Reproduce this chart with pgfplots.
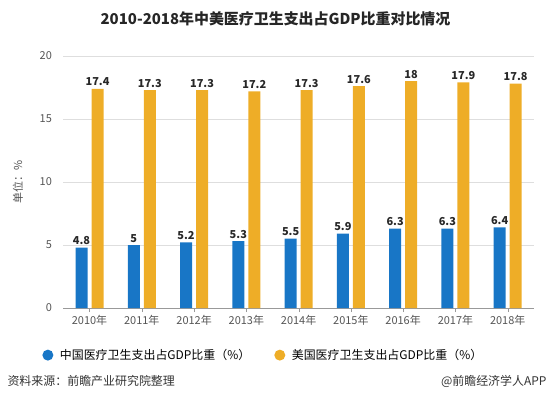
\documentclass[border=0pt]{standalone}
\usepackage{pgfplots}
\pgfplotsset{compat=1.18}
\usepackage{fontspec}
\setmainfont{Noto Sans CJK SC}
\definecolor{cnblue}{RGB}{24,118,198}
\definecolor{usorange}{RGB}{238,173,39}
\definecolor{gridgray}{RGB}{222,222,222}
\definecolor{ticktext}{RGB}{85,85,85}
\definecolor{valtext}{RGB}{40,40,40}
\begin{document}
\begin{tikzpicture}[x=1bp,y=1bp]
\useasboundingbox (0,0) rectangle (551,409);
\begin{axis}[
  at={(63.4bp,101bp)}, anchor=south west,
  scale only axis, width=470.4bp, height=252bp,
  ymin=0, ymax=20, ytick={0,5,10,15,20},
  xmin=-0.5, xmax=8.5, xtick=data,
  xticklabels={2010年,2011年,2012年,2013年,2014年,2015年,2016年,2017年,2018年},
  ybar=4bp, bar width=12bp,
  axis x line*=bottom, axis y line*=left,
  x axis line style={draw=gray!80},
  y axis line style={draw=none},
  ymajorgrids, grid style={gridgray, line width=0.6pt},
  xtick style={draw=gray!80}, major tick length=4bp,
  tick align=outside, xtick pos=bottom,
  ytick style={draw=none},
  yticklabel style={xshift=-4bp},
  tick label style={font=\fontsize{11}{11}\selectfont, text=ticktext},
  /pgf/number format/assume math mode=true,
  nodes near coords,
  nodes near coords style={font=\bfseries\fontsize{11}{11}\selectfont, text=valtext, inner sep=2.5bp},
  legend style={at={(0.425,-0.187)}, anchor=center, draw=none, fill=none,
    legend columns=2, font=\fontsize{12}{12}\selectfont, text=black,
    /tikz/every even column/.append style={column sep=22bp}},
  legend image code/.code={\fill[#1] (0bp,0bp) circle (5.5bp); \path (10bp,0bp);},
]
\addplot[fill=cnblue, draw=none] coordinates {(0,4.8) (1,5) (2,5.2) (3,5.3) (4,5.5) (5,5.9) (6,6.3) (7,6.3) (8,6.4)};
\addplot[fill=usorange, draw=none] coordinates {(0,17.4) (1,17.3) (2,17.3) (3,17.2) (4,17.3) (5,17.6) (6,18) (7,17.9) (8,17.8)};
\legend{中国医疗卫生支出占GDP比重（\%）, 美国医疗卫生支出占GDP比重（\%）}
\end{axis}
\node[font=\bfseries\fontsize{15}{15}\selectfont, text=black!85] at (275.5,390) {2010-2018年中美医疗卫生支出占GDP比重对比情况};
\node[rotate=90, font=\fontsize{11}{11}\selectfont, text=ticktext] at (18,227) {单位：\%};
\node[anchor=west, font=\fontsize{12}{12}\selectfont, text=black!80] at (4,28) {资料来源：前瞻产业研究院整理};
\node[anchor=east, font=\fontsize{12}{12}\selectfont, text=black!80] at (550,28) {@前瞻经济学人APP};
\end{tikzpicture}
\end{document}
